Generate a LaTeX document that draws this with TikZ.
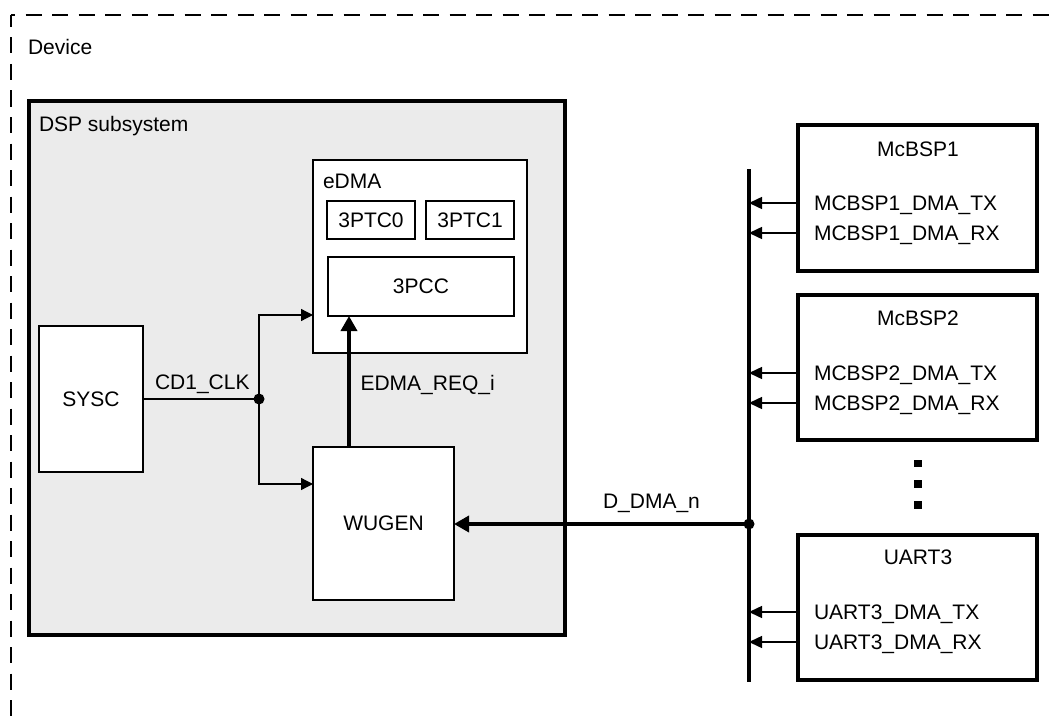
\documentclass[tikz,border=0pt]{standalone}
\usepackage{fontspec}
\setmainfont{Liberation Sans}
\usetikzlibrary{arrows.meta}
\definecolor{dspgray}{HTML}{EBEBEB}
\begin{document}
\begin{tikzpicture}[x=1pt,y=-1pt,
  every node/.style={font=\fontsize{21}{25}\selectfont, inner sep=0pt, outer sep=0pt},
  bigbox/.style={draw, fill=white, line width=3.5pt},
  midbox/.style={draw, fill=white, line width=2.6pt},
  smallbox/.style={draw, fill=white, line width=2pt},
  lbl/.style={anchor=base west},
  clk/.style={line width=1.3pt, -{Triangle[length=12pt,width=12pt]}},
  sig/.style={line width=1.5pt, -{Triangle[length=13pt,width=12pt]}},
  thick sig/.style={line width=3.5pt, -{Triangle[length=15pt,width=16pt]}},
  busline/.style={line width=3.5pt},
  junction/.style={circle, fill=black, minimum size=11pt},
  ellip/.style={fill=black, minimum size=7.5pt}
]
\useasboundingbox (0,0) rectangle (1050,717);

% outer device frame (dashed, partially visible)
\draw[line width=2.5pt, dash pattern=on 16pt off 10.5pt, dash phase=4pt] (11,15) -- (11,717);
\draw[line width=2.5pt, dash pattern=on 16pt off 10.5pt, dash phase=12pt] (11,15) -- (1050,15);
\node[lbl] (device) at (28,55) {Device};

% DSP subsystem
\node[draw, fill=dspgray, line width=3.5pt, minimum width=536pt, minimum height=534pt] (dsp) at (297,368) {};
\node[lbl] (dsplbl) at (39,131.5) {DSP subsystem};

% eDMA
\node[midbox, minimum width=214pt, minimum height=193pt] (edma) at (420,256.5) {};
\node[lbl] (edmalbl) at (323,188) {eDMA};
\node[smallbox, minimum width=88pt, minimum height=38pt] (ptc0) at (371,220) {3PTC0};
\node[smallbox, minimum width=88pt, minimum height=38pt] (ptc1) at (470,220) {3PTC1};
\node[smallbox, minimum width=186pt, minimum height=59pt] (pcc) at (421,286.5) {3PCC};

% SYSC and WUGEN
\node[draw, fill=white, line width=2.3pt, minimum width=104pt, minimum height=146pt] (sysc) at (91,399) {SYSC};
\node[draw, fill=white, line width=2.3pt, minimum width=141pt, minimum height=153pt] (wugen) at (383.5,523.5) {WUGEN};

% clock distribution
\node[junction] (clkdot) at (259,399) {};
\draw[line width=1.3pt] (sysc.east |- clkdot) -- (clkdot.center);
\node[lbl] (clklbl) at (155,389) {CD1\_CLK};
\draw[clk] (clkdot.center) -- (clkdot.center |- 0,315) -- (edma.west |- 0,315);
\draw[clk] (clkdot.center) -- (clkdot.center |- 0,484) -- (wugen.west |- 0,484);

% EDMA request
\draw[thick sig] (wugen.north -| 349,0) -- (pcc.south -| 349,0);
\node[lbl] (reqlbl) at (360.5,390) {EDMA\_REQ\_i};

% bus
\coordinate (bustop) at (749,169);
\coordinate (busbot) at (749,682);
\draw[busline] (bustop) -- (busbot);
\node[junction] (busdot) at (749,524) {};
\draw[thick sig] (busdot.center) -- (wugen.east |- busdot);
\node[anchor=base] (dmalbl) at (651.5,508) {D\_DMA\_n};

% peripherals
\node[bigbox, minimum width=239pt, minimum height=146pt] (mc1) at (917.5,198) {};
\node[bigbox, minimum width=239pt, minimum height=145pt] (mc2) at (917.5,367.5) {};
\node[bigbox, minimum width=239pt, minimum height=145pt] (ua3) at (917.5,607.5) {};

\node (mc1t) at (918,149) {McBSP1};
\node (mc2t) at (918,318) {McBSP2};
\node (ua3t) at (918,557) {UART3};

\node[lbl] (mc1tx) at (814,210.5) {MCBSP1\_DMA\_TX};
\node[lbl] (mc1rx) at (814,240.5) {MCBSP1\_DMA\_RX};
\node[lbl] (mc2tx) at (814,380.5) {MCBSP2\_DMA\_TX};
\node[lbl] (mc2rx) at (814,410.5) {MCBSP2\_DMA\_RX};
\node[lbl] (ua3tx) at (814,619.5) {UART3\_DMA\_TX};
\node[lbl] (ua3rx) at (814,649.5) {UART3\_DMA\_RX};

\draw[sig] (mc1.west |- 0,203) -- (bustop |- 0,203);
\draw[sig] (mc1.west |- 0,233) -- (bustop |- 0,233);
\draw[sig] (mc2.west |- 0,373) -- (bustop |- 0,373);
\draw[sig] (mc2.west |- 0,403) -- (bustop |- 0,403);
\draw[sig] (ua3.west |- 0,612) -- (bustop |- 0,612);
\draw[sig] (ua3.west |- 0,642) -- (bustop |- 0,642);

% ellipsis
\node[ellip] (d1) at (918,463.5) {};
\node[ellip] (d2) at (918,484) {};
\node[ellip] (d3) at (918,505) {};
\end{tikzpicture}
\end{document}
